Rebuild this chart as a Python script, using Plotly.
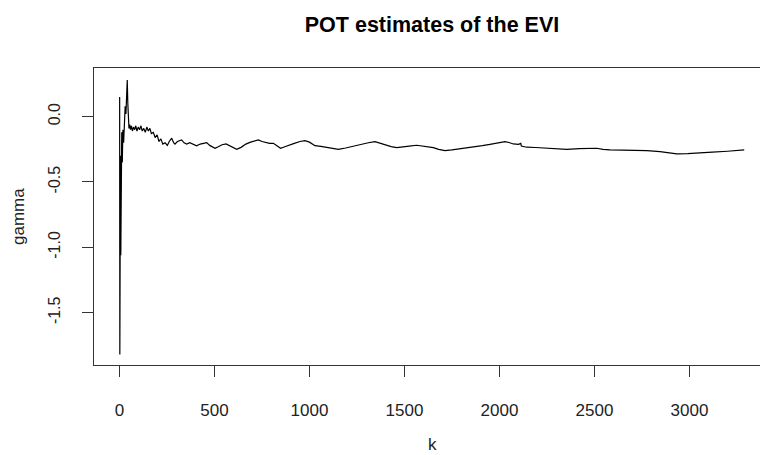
import plotly.graph_objects as go

k_vals = [1, 2, 3, 5, 7, 9, 12, 15, 18, 22, 26, 30, 34, 38, 41, 44, 47, 50, 54, 58,
          63, 68, 74, 80, 86, 92, 99, 106, 113, 120, 128, 136, 144, 152, 160, 168,
          178, 188, 198, 208, 218, 228, 240, 252, 262, 275, 285, 292, 305, 318, 327,
          340, 354, 370, 385, 406, 425, 445, 459, 475, 490, 503, 520, 540, 561, 580,
          600, 617, 640, 665, 690, 710, 731, 750, 770, 790, 810, 830, 848, 870, 897,
          920, 950, 976, 1000, 1029, 1060, 1090, 1120, 1152, 1190, 1230, 1270, 1310,
          1345, 1371, 1400, 1430, 1459, 1490, 1525, 1564, 1600, 1630, 1652, 1680,
          1713, 1750, 1790, 1827, 1870, 1910, 1950, 1990, 2029, 2050, 2073, 2100,
          2112, 2115, 2143, 2190, 2248, 2300, 2354, 2420, 2470, 2511, 2545, 2582,
          2650, 2700, 2775, 2845, 2900, 2933, 2990, 3055, 3120, 3200, 3288]
gamma_vals = [0.15, -1.82, 0.12, -0.30, -1.06, -0.40, -0.12, -0.35, -0.10, -0.20,
              -0.02, 0.08, 0.02, 0.20, 0.28, 0.10, -0.05, -0.09, -0.06, -0.10,
              -0.07, -0.11, -0.08, -0.10, -0.07, -0.11, -0.08, -0.10, -0.07, -0.11,
              -0.09, -0.12, -0.08, -0.11, -0.09, -0.13, -0.12, -0.16, -0.14, -0.19,
              -0.17, -0.21, -0.20, -0.22, -0.19, -0.165, -0.20, -0.21, -0.19, -0.18,
              -0.178, -0.20, -0.21, -0.20, -0.21, -0.224, -0.21, -0.20, -0.199, -0.22,
              -0.235, -0.242, -0.23, -0.215, -0.209, -0.225, -0.24, -0.25, -0.235,
              -0.21, -0.195, -0.185, -0.178, -0.19, -0.20, -0.205, -0.204, -0.225,
              -0.242, -0.23, -0.219, -0.205, -0.19, -0.184, -0.195, -0.222, -0.228,
              -0.234, -0.24, -0.25, -0.24, -0.225, -0.21, -0.20, -0.191, -0.204,
              -0.22, -0.23, -0.237, -0.23, -0.225, -0.219, -0.225, -0.232, -0.237,
              -0.25, -0.26, -0.255, -0.248, -0.242, -0.232, -0.222, -0.212, -0.20,
              -0.191, -0.198, -0.209, -0.212, -0.205, -0.225, -0.234, -0.236, -0.24,
              -0.245, -0.25, -0.245, -0.243, -0.242, -0.25, -0.255, -0.257, -0.258,
              -0.26, -0.268, -0.28, -0.285, -0.283, -0.28, -0.272, -0.265, -0.255]

x_ticks = [0, 500, 1000, 1500, 2000, 2500, 3000]
y_ticks = [-1.5, -1.0, -0.5, 0.0]
y_tick_text = ["-1.5", "-1.0", "-0.5", "0.0"]

FONT = "Liberation Sans, Arial, sans-serif"

fig = go.Figure()
fig.add_trace(go.Scatter(x=k_vals, y=gamma_vals, mode="lines",
                         line=dict(color="black", width=1.2), showlegend=False,
                         hoverinfo="skip"))

fig.update_layout(
    width=760, height=455,
    margin=dict(l=94, r=0, t=68, b=90),
    paper_bgcolor="white", plot_bgcolor="white",
    font=dict(family=FONT, size=17, color="#222"),
    title=dict(text="<b>POT estimates of the EVI</b>", x=432 / 760, xanchor="center",
               xref="container", y=1 - 24 / 455, yanchor="middle", yref="container",
               font=dict(family=FONT, size=21.5, color="black")),
    xaxis=dict(range=[-134, 3371], tickvals=x_ticks, ticks="outside", ticklen=11,
               tickcolor="#333", showline=True, mirror=True, linecolor="#333",
               linewidth=1, showgrid=False, zeroline=False,
               ticklabelstandoff=19, tickfont=dict(size=17, color="#222")),
    yaxis=dict(range=[-1.900, 0.372], tickvals=y_ticks, ticktext=y_tick_text,
               ticks="outside", ticklen=11, tickcolor="#333", tickangle=-90,
               showline=True, mirror=False, linecolor="#333", linewidth=1,
               showgrid=False, zeroline=False, ticklabelstandoff=16,
               tickfont=dict(size=16, color="#222")),
    annotations=[
        dict(text="k", xref="paper", yref="paper", x=(432 - 94) / 666,
             y=(365 - 444) / 297, xanchor="center", yanchor="middle",
             showarrow=False, font=dict(size=17, color="#222")),
        dict(text="gamma", xref="paper", yref="paper", x=(18.5 - 94) / 666,
             y=0.5, xanchor="center", yanchor="middle", textangle=-90,
             showarrow=False, font=dict(size=17, color="#222")),
    ],
)

fig.write_html("out.html")
